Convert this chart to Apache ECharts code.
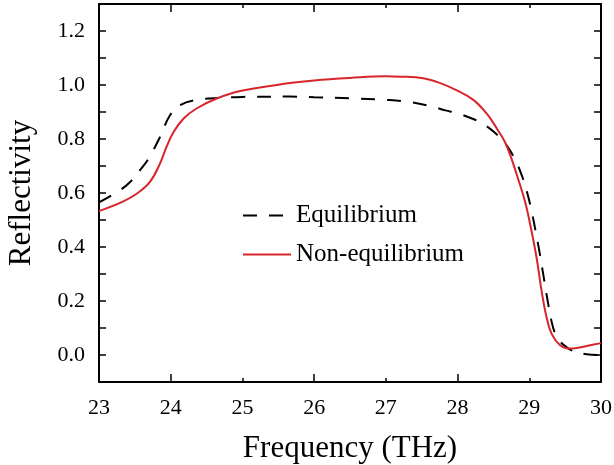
<!DOCTYPE html>
<html>
<head>
<meta charset="utf-8">
<script src="https://cdn.jsdelivr.net/npm/echarts@6/dist/echarts.min.js"></script>
<style>html,body{margin:0;padding:0;background:#fff;}#c{width:614px;height:465px;}</style>
</head>
<body>
<div id="c"></div>
<script>
// ---- data ----
const seriesNames = ['Equilibrium', 'Non-equilibrium'];
const eqFreq = [23.0, 23.29, 23.43, 23.57, 23.69, 23.85, 23.99, 24.13, 24.32, 24.73, 25.0, 25.66, 26.0, 26.5, 27.0, 27.3, 27.65, 27.83, 28.0, 28.2, 28.36, 28.5, 28.64, 28.73, 28.82, 28.9, 28.96, 29.02, 29.08, 29.14, 29.2, 29.26, 29.31, 29.36, 29.43, 29.5, 29.59, 29.8, 30.0];
const eqRefl = [0.565, 0.61, 0.64, 0.684, 0.727, 0.807, 0.888, 0.925, 0.943, 0.953, 0.956, 0.957, 0.955, 0.951, 0.945, 0.938, 0.92, 0.906, 0.895, 0.876, 0.855, 0.828, 0.792, 0.758, 0.714, 0.662, 0.612, 0.548, 0.47, 0.385, 0.29, 0.195, 0.125, 0.08, 0.05, 0.033, 0.017, 0.003, 0.0];
const neqFreq = [23.0, 23.34, 23.53, 23.71, 23.85, 23.94, 24.04, 24.18, 24.36, 24.64, 24.97, 25.66, 26.0, 26.5, 27.0, 27.2, 27.52, 27.76, 27.99, 28.22, 28.41, 28.55, 28.66, 28.76, 28.85, 28.92, 28.96, 29.01, 29.1, 29.17, 29.24, 29.31, 29.43, 29.55, 29.64, 29.85, 30.0];
const neqRefl = [0.533, 0.569, 0.598, 0.641, 0.709, 0.77, 0.826, 0.876, 0.913, 0.95, 0.978, 1.007, 1.017, 1.026, 1.032, 1.031, 1.025, 1.007, 0.98, 0.945, 0.893, 0.838, 0.789, 0.721, 0.647, 0.588, 0.548, 0.487, 0.363, 0.24, 0.141, 0.079, 0.036, 0.024, 0.025, 0.036, 0.044];
const xTickLabels = [23, 24, 25, 26, 27, 28, 29, 30];
const xLongTicks = [24, 26, 28];
const yTickLabels = [0.0, 0.2, 0.4, 0.6, 0.8, 1.0, 1.2];
const xTitle = 'Frequency (THz)';
const yTitle = 'Reflectivity';

const FONT = '"Liberation Serif", "Times New Roman", serif';
const pairs = (xs, ys) => xs.map((x, i) => [x, ys[i]]);

const line = { show: true, onZero: false, lineStyle: { color: '#000', width: 2 } };
const noLine = { show: false, onZero: false };
const baseX = { type: 'value', min: 23, max: 30, interval: 1, splitLine: { show: false } };
const baseY = { type: 'value', min: -0.1, max: 1.3, interval: 0.1, splitLine: { show: false } };

const chart = echarts.init(document.getElementById('c'), null, { renderer: 'canvas' });
chart.setOption({
  animation: false,
  backgroundColor: '#fff',
  grid: { left: 99, right: 13, top: 4, bottom: 83, containLabel: false, outerBoundsMode: 'none' },
  legend: {
    orient: 'vertical', left: 242, top: 203, padding: 0,
    itemWidth: 48, itemHeight: 14, itemGap: 14,
    itemStyle: { color: 'rgba(0,0,0,0)', borderWidth: 0, opacity: 0 },
    textStyle: { fontFamily: FONT, fontSize: 25, color: '#000' },
    data: seriesNames
  },
  xAxis: [
    Object.assign({}, baseX, {
      position: 'bottom', axisLine: line,
      axisTick: { inside: true, length: 4, lineStyle: { color: '#000', width: 1.5 } },
      axisLabel: { customValues: xTickLabels, margin: 15, fontFamily: FONT, fontSize: 22, color: '#000' },
      name: xTitle, nameLocation: 'middle', nameGap: 51,
      nameTextStyle: { fontFamily: FONT, fontSize: 31, color: '#000' }
    }),
    Object.assign({}, baseX, {
      position: 'bottom', axisLine: noLine,
      axisTick: { inside: true, length: 8, customValues: xLongTicks, lineStyle: { color: '#000', width: 1.5 } },
      axisLabel: { show: false }
    }),
    Object.assign({}, baseX, {
      position: 'top', axisLine: line,
      axisTick: { inside: true, length: 4, lineStyle: { color: '#000', width: 1.5 } },
      axisLabel: { show: false }
    }),
    Object.assign({}, baseX, {
      position: 'top', axisLine: noLine,
      axisTick: { inside: true, length: 8, customValues: xLongTicks, lineStyle: { color: '#000', width: 1.5 } },
      axisLabel: { show: false }
    })
  ],
  yAxis: [
    Object.assign({}, baseY, {
      position: 'left', axisLine: line,
      axisTick: { inside: true, length: 7, lineStyle: { color: '#000', width: 1.5 } },
      axisLabel: { customValues: yTickLabels, margin: 14, fontFamily: FONT, fontSize: 22, color: '#000',
                   formatter: v => Number(v).toFixed(1) },
      name: yTitle, nameLocation: 'middle', nameGap: 62, nameRotate: 90,
      nameTextStyle: { fontFamily: FONT, fontSize: 31, color: '#000' }
    }),
    Object.assign({}, baseY, {
      position: 'right', axisLine: line,
      axisTick: { inside: true, length: 7, lineStyle: { color: '#000', width: 1.5 } },
      axisLabel: { show: false }
    })
  ],
  series: [
    {
      name: seriesNames[0], type: 'line', xAxisIndex: 0, yAxisIndex: 0,
      data: pairs(eqFreq, eqRefl), showSymbol: false, symbol: 'none',
      smooth: 0.4,
      lineStyle: { color: '#000', width: 2, type: [14, 12] },
      itemStyle: { color: '#000' }, z: 3
    },
    {
      name: seriesNames[1], type: 'line', xAxisIndex: 0, yAxisIndex: 0,
      data: pairs(neqFreq, neqRefl), showSymbol: false, symbol: 'none',
      smooth: 0.4,
      lineStyle: { color: '#d7262b', width: 2 },
      itemStyle: { color: '#d7262b' }, z: 4
    }
  ]
});
</script>
</body>
</html>
